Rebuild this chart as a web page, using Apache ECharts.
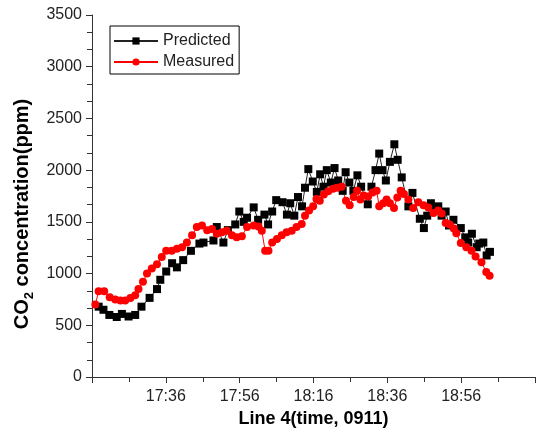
<!DOCTYPE html>
<html style="height: 100%">
<head>
<meta charset="utf-8">
<script type="text/javascript" src="https://cdn.jsdelivr.net/npm/echarts@6/dist/echarts.min.js"></script>
</head>
<body style="width: 100%; height: 100%; margin: 0; background: #fff">
<div id="main" style="width: 536px; height: 434px;"></div>
<script type="text/javascript">
// x values are minutes after 17:16 (axis start)
var baseHour = 17, baseMin = 16;

var predMin = [1.8, 3.1, 4.7, 6.7, 8.1, 9.9, 11.7, 13.4, 15.6, 17.6, 18.5, 20.1, 21.7, 23.0, 24.7, 26.8, 29.1, 30.2, 32.9, 33.8,
  35.6, 36.8, 38.8, 39.9, 41.1, 42.0, 43.8, 45.0, 46.7, 47.7, 48.8, 49.9, 51.6, 52.8, 53.7, 54.8, 55.8, 56.9, 57.7, 58.6,
  59.8, 60.9, 61.8, 62.7, 63.6, 64.7, 65.7, 66.7, 67.9, 68.7, 69.7, 70.8, 71.9, 72.9, 74.7, 75.7, 76.8, 77.8, 78.7, 79.6,
  80.7, 81.9, 82.8, 83.9, 85.7, 86.8, 88.8, 89.9, 90.8, 91.8, 92.9, 93.8, 94.7, 95.8, 96.7, 97.9, 99.9, 101.1, 101.9, 102.9,
  104.2, 104.9, 106.0, 106.9, 107.8];
var predPpm = [680, 650, 600, 580, 610, 585, 600, 680, 765, 850, 940, 1020, 1100, 1060, 1130, 1220, 1290, 1300, 1320, 1450,
  1300, 1420, 1475, 1600, 1500, 1540, 1640, 1520, 1570, 1475, 1600, 1710, 1690, 1570, 1680, 1560, 1740, 1650, 1830, 2010,
  1890, 1790, 1960, 1840, 2000, 1880, 2020, 1900, 1800, 1980, 1880, 1800, 1950, 1840, 1670, 1840, 2000, 2160, 2000, 1900,
  2080, 2250, 2100, 1930, 1650, 1780, 1530, 1440, 1560, 1680, 1610, 1650, 1560, 1600, 1465, 1520, 1440, 1350, 1300, 1385,
  1255, 1290, 1300, 1175, 1210];

var measMin = [0.9, 1.8, 3.3, 4.8, 6.3, 7.7, 9.0, 10.4, 11.7, 12.6, 13.8, 14.9, 16.2, 17.6, 18.9, 20.1, 21.6, 23.0, 24.4, 25.7,
  27.1, 28.4, 29.8, 31.2, 32.5, 33.8, 35.2, 36.5, 37.9, 39.2, 40.6, 42.0, 43.8, 45.1, 46.0, 46.9, 47.8, 48.8, 50.1, 51.4,
  52.7, 54.1, 55.4, 56.8, 57.7, 58.8, 59.9, 60.8, 61.7, 62.8, 64.0, 65.3, 66.4, 67.6, 68.8, 69.8, 70.9, 71.8, 72.7, 73.6,
  74.8, 76.0, 77.1, 77.8, 78.9, 79.8, 80.7, 81.8, 82.7, 83.6, 84.5, 85.7, 87.0, 88.4, 89.8, 91.1, 92.5, 93.8, 94.7, 95.8,
  96.9, 98.0, 98.7, 99.9, 101.4, 102.8, 103.9, 105.5, 106.8, 107.7];
var measPpm = [700, 830, 830, 770, 750, 740, 740, 765, 790, 850, 920, 1000, 1050, 1090, 1160, 1220, 1220, 1240, 1255, 1300,
  1370, 1450, 1465, 1420, 1430, 1385, 1400, 1415, 1370, 1350, 1360, 1450, 1465, 1455, 1415, 1220, 1220, 1300, 1335, 1370,
  1400, 1415, 1450, 1480, 1560, 1610, 1650, 1720, 1705, 1765, 1795, 1820, 1830, 1840, 1705, 1660, 1740, 1800, 1715, 1755,
  1745, 1785, 1800, 1650, 1680, 1715, 1680, 1635, 1735, 1800, 1770, 1715, 1635, 1690, 1660, 1640, 1585, 1610, 1580, 1490,
  1475, 1435, 1390, 1295, 1255, 1220, 1165, 1110, 1015, 980];

var yTicks = [0, 3500, 500];

function pairs(xs, ys) {
  var out = [];
  for (var i = 0; i < xs.length; i++) out.push([xs[i], ys[i]]);
  return out;
}

function clock(v) {
  var t = baseHour * 60 + baseMin + v;
  var h = Math.floor(t / 60), m = Math.round(t % 60);
  return h + ':' + (m < 10 ? '0' + m : m);
}

var myChart = echarts.init(document.getElementById('main'));
var axisColor = '#333';
var option = {
  animation: false,
  textStyle: { fontFamily: 'Liberation Sans, Arial, sans-serif' },
  grid: { left: 92, right: 1, top: 15, bottom: 57 },
  legend: {
    left: 110, top: 26,
    orient: 'vertical',
    borderColor: '#000', borderWidth: 1,
    padding: [7, 5, 4, 3],
    itemWidth: 44, itemHeight: 9, itemGap: 5,
    textStyle: { fontSize: 16, color: '#222', lineHeight: 16 },
    data: ['Predicted', 'Measured']
  },
  xAxis: {
    type: 'value',
    min: 0, max: 120, interval: 20,
    name: 'Line 4(time, 0911)',
    nameLocation: 'middle', nameGap: 30,
    nameTextStyle: { fontSize: 18, fontWeight: 'bold', color: '#000' },
    axisLine: { lineStyle: { color: axisColor } },
    axisTick: { inside: false, length: 6, lineStyle: { color: axisColor } },
    minorTick: { show: true, splitNumber: 2, length: 5, lineStyle: { color: axisColor } },
    splitLine: { show: false },
    axisLabel: {
      fontSize: 16, color: '#222', margin: 12,
      showMinLabel: false, showMaxLabel: false,
      formatter: clock
    }
  },
  yAxis: {
    type: 'value',
    min: yTicks[0], max: yTicks[1], interval: yTicks[2],
    name: '{a|CO}{s|2}{a| concentration(ppm)}',
    nameLocation: 'middle', nameRotate: 90, nameGap: 52,
    nameTextStyle: {
      padding: [0, 36, 0, 0],
      rich: {
        a: { fontSize: 20, fontWeight: 'bold', color: '#000', lineHeight: 26, verticalAlign: 'middle' },
        s: { fontSize: 13, fontWeight: 'bold', color: '#000', lineHeight: 26, verticalAlign: 'bottom' }
      }
    },
    axisLine: { show: true, lineStyle: { color: axisColor } },
    axisTick: { inside: false, length: 6, lineStyle: { color: axisColor } },
    minorTick: { show: true, splitNumber: 3, length: 5, lineStyle: { color: axisColor } },
    splitLine: { show: false },
    axisLabel: { fontSize: 16, color: '#222', margin: 10, formatter: function (v) { return String(v); } }
  },
  series: [
    {
      name: 'Predicted',
      type: 'line',
      data: pairs(predMin, predPpm),
      symbol: 'rect', symbolSize: 8,
      itemStyle: { color: '#000' },
      lineStyle: { color: '#222', width: 1 }
    },
    {
      name: 'Measured',
      type: 'line',
      data: pairs(measMin, measPpm),
      symbol: 'circle', symbolSize: 8,
      itemStyle: { color: '#ff0000' },
      lineStyle: { color: '#ff0000', width: 1 }
    }
  ]
};
myChart.setOption(option);
</script>
</body>
</html>
